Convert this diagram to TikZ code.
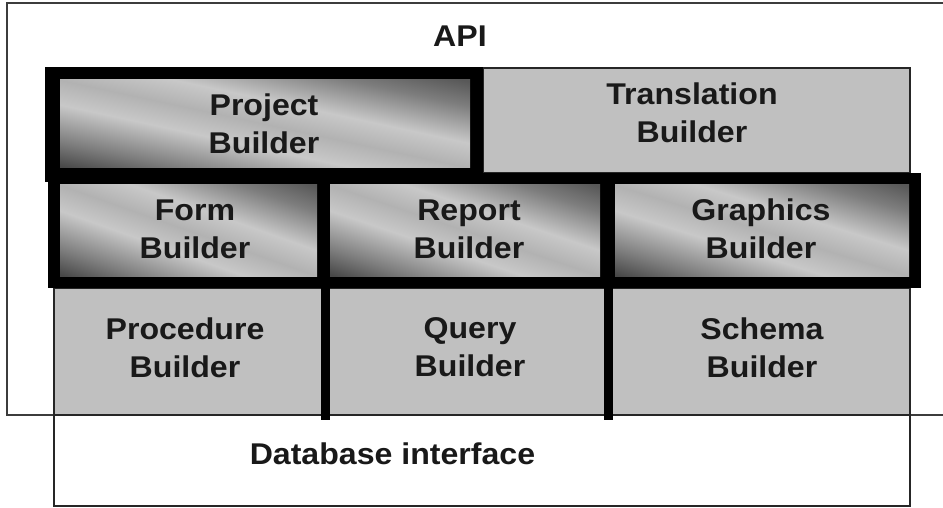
\documentclass[tikz,border=0pt]{standalone}
\usepackage{fontspec}
\setmainfont{Liberation Sans}[FakeStretch=1.07]
\definecolor{boxgray}{RGB}{192,192,192}
\definecolor{mdark}{RGB}{72,72,72}
\definecolor{mdarkb}{RGB}{88,88,88}
\definecolor{mhalf}{RGB}{125,125,125}
\definecolor{mlight}{RGB}{200,200,200}
\definecolor{mmid}{RGB}{178,178,178}
\definecolor{linegray}{RGB}{60,60,60}
\pgfdeclarehorizontalshading{metal}{100bp}{color(0bp)=(mdark); color(15bp)=(mdark); color(25bp)=(mhalf); color(40bp)=(mlight); color(50bp)=(mmid); color(60bp)=(mlight); color(75bp)=(mhalf); color(85bp)=(mdarkb); color(100bp)=(mdarkb)}
\tikzset{
  outerbox/.style={draw=linegray, line width=1.6pt},
  graybox/.style={fill=boxgray, draw=black!85, line width=1.1pt},
  whitebox/.style={fill=white, draw=black!85, line width=1.1pt},
  blackframe/.style={fill=black, draw=none},
  metalbox/.style={shading=metal, shading angle=45, draw=none},
  divider/.style={line width=9pt, black},
  lbl/.style={font=\bfseries\fontsize{30}{38}\selectfont, align=center, text=black!90, inner sep=0pt}
}
\newcommand\metalrect[4]{%
  \begin{scope}[transform canvas={shift={(#1,#2)}, xscale={#3-#1}, yscale={#4-#2}}]
    \path[metalbox] (0,0) rectangle (1,1);
  \end{scope}}
\begin{document}
\begin{tikzpicture}[x=1pt, y=-1pt]
\useasboundingbox (0,0) rectangle (943,508);
% API outer
\path[outerbox] (960,3) -- (7,3) -- (7,415) -- (960,415);
% database
\path[whitebox] (54,415) rectangle (910,506);
% bottom row
\path[graybox] (54,288) rectangle (910,415);
\coordinate (d1t) at (325,288); \coordinate (d1b) at (325,420);
\coordinate (d2t) at (608,288); \coordinate (d2b) at (608,420);
\draw[divider] (d1t) -- (d1b);
\draw[divider] (d2t) -- (d2b);
% translation
\path[graybox] (483,68) rectangle (910,173);
% project frame
\path[blackframe] (45,67) rectangle (483,182);
\metalrect{60}{80}{470}{168}
% second row frame
\path[blackframe] (48,173) rectangle (921,288);
\metalrect{60}{185}{317}{276}
\metalrect{330}{185}{600}{276}
\metalrect{615}{185}{909}{276}
% labels
\node[lbl] (api) at (460,36) {API};
\node[lbl] (proj) at (264,123.5) {Project\\Builder};
\node[lbl] (trans) at (692,112.5) {Translation\\Builder};
\node[lbl] (form) at (195,229) {Form\\Builder};
\node[lbl] (report) at (469,229) {Report\\Builder};
\node[lbl] (graph) at (761,229) {Graphics\\Builder};
\node[lbl] (proc) at (185,347.5) {Procedure\\Builder};
\node[lbl] (query) at (470,347.5) {Query\\Builder};
\node[lbl] (schema) at (762,347.5) {Schema\\Builder};
\node[lbl] (db) at (392.5,454) {Database interface};
\end{tikzpicture}
\end{document}
